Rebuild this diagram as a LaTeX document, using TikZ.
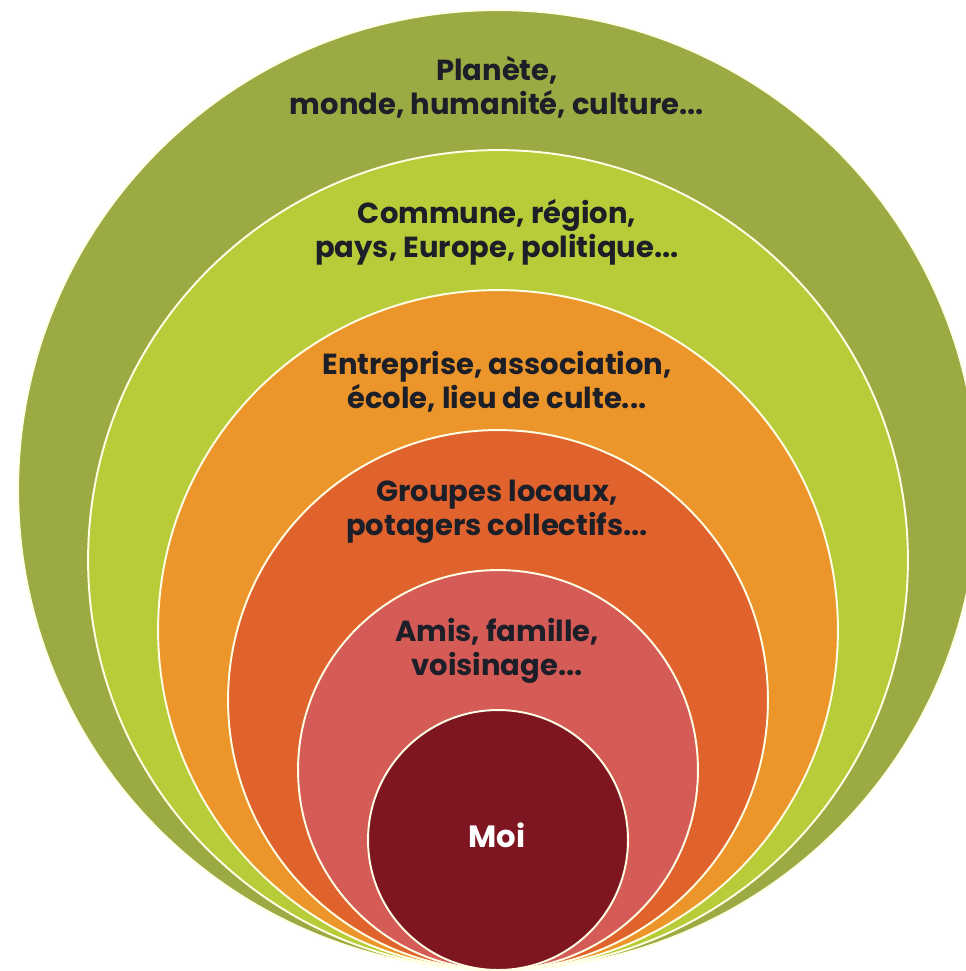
\documentclass[tikz,border=0pt]{standalone}
\usepackage{fontspec}
\setmainfont{Poppins}
\definecolor{planet}{RGB}{155,170,66}
\definecolor{commune}{RGB}{184,203,56}
\definecolor{entreprise}{RGB}{236,149,42}
\definecolor{groupes}{RGB}{224,98,45}
\definecolor{amis}{RGB}{213,91,87}
\definecolor{moi}{RGB}{126,22,33}
\definecolor{textdark}{RGB}{28,30,40}
\begin{document}
\begin{tikzpicture}[
    x=0.02cm, y=-0.02cm,
    ring/.style={draw=white!90!yellow, line width=1.1pt, circle, inner sep=0pt, outer sep=0pt},
    txt/.style={align=center, text=textdark, font=\fontsize{16.5}{19.5}\selectfont\bfseries}
  ]
  \useasboundingbox (0,0) rectangle (965,971);
  \node[ring, fill=planet, minimum size=19.2cm] (planete) at (498,490) {};
  \node[ring, fill=commune, minimum size=16.4cm] (commune) at (498,560) {};
  \node[ring, fill=entreprise, minimum size=13.6cm] (entreprise) at (498,630) {};
  \node[ring, fill=groupes, minimum size=10.8cm] (groupes) at (498,700) {};
  \node[ring, fill=amis, minimum size=8cm] (amis) at (498,770) {};
  \node[ring, fill=moi, minimum size=5.2cm] (moi) at (498,840) {};

  \node[txt] (tplanete) at (497,87) {Planète,\\monde, humanité, culture...};
  \node[txt] (tcommune) at (497,232) {Commune, région,\\pays, Europe, politique...};
  \node[txt] (tentreprise) at (497,382) {Entreprise, association,\\école, lieu de culte...};
  \node[txt] (tgroupes) at (497,512) {Groupes locaux,\\potagers collectifs...};
  \node[txt] (tamis) at (497,651) {Amis, famille,\\voisinage...};
  \node[txt, text=white, font=\fontsize{17.5}{19.5}\selectfont\bfseries] (tmoi) at (497,835) {Moi};
\end{tikzpicture}
\end{document}
